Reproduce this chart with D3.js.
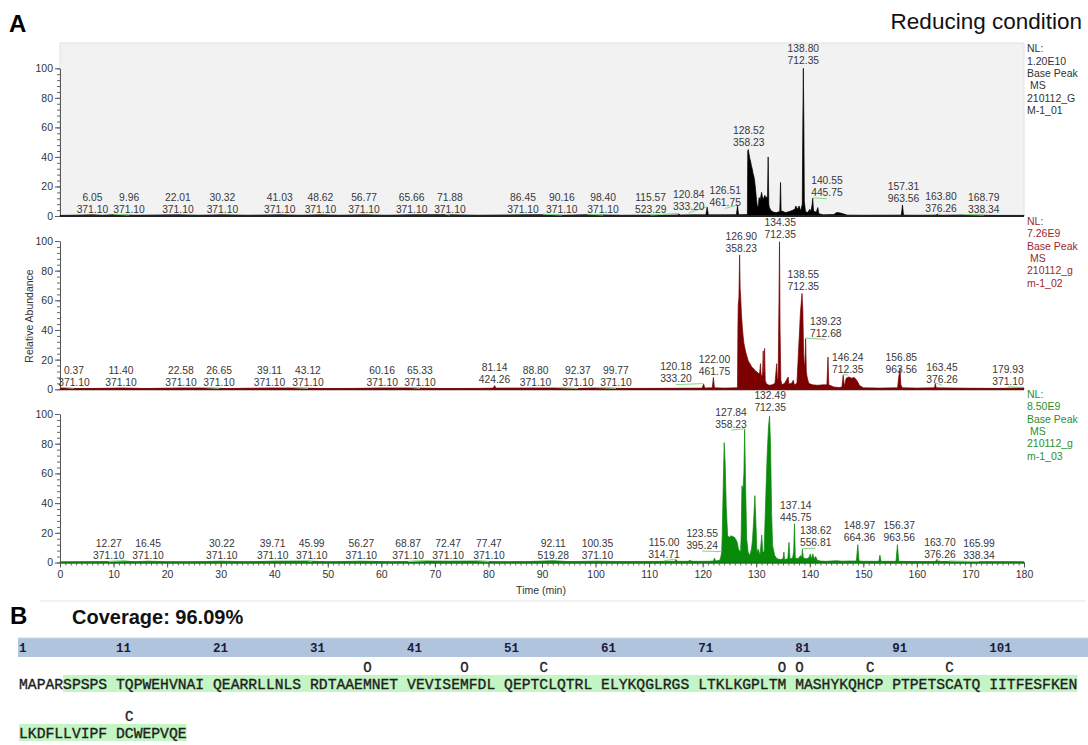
<!DOCTYPE html>
<html><head><meta charset="utf-8">
<script src="https://cdn.jsdelivr.net/npm/d3@7"></script>
<style>
html,body{margin:0;padding:0;background:#fff;}
svg{display:block;font-family:"Liberation Sans",Arial,sans-serif;}
</style></head><body>
<svg id="chart" width="1088" height="745"></svg>
<script>
// Base peak chromatograms: [retention time (min), relative abundance (%)]
const traceRun01 = [[0,0.4],[2,0.5],[6.05,0.8],[8,0.5],[9.96,0.9],[14,0.5],[22.01,0.8],[26,0.5],[30.32,0.8],[35,0.5],[41.03,0.8],[45,0.5],[48.62,0.8],[52,0.5],[56.77,0.8],[61,0.5],[65.66,0.8],[71.88,0.9],[78,0.5],[86.45,0.8],[90.16,0.9],[94,0.5],[98.4,0.9],[105,0.5],[110,0.6],[115.3,0.7],[115.57,1.4],[115.8,0.7],[118,0.8],[120.6,0.8],[120.84,6],[121.05,0.8],[124,0.8],[126.3,0.9],[126.51,7],[126.7,0.9],[128.35,1],[128.42,44],[128.52,45],[128.65,42],[128.8,39],[128.95,37],[129.1,34],[129.25,32],[129.4,29],[129.55,27],[129.7,24],[129.85,19],[130.0,13],[130.15,8],[130.28,5.7],[130.4,7],[130.53,12.5],[130.75,11],[131.0,16],[131.15,13],[131.32,11.3],[131.5,13],[131.62,14],[131.8,12],[131.93,13],[132.1,12],[132.23,40],[132.35,8],[132.45,5.7],[132.84,3.4],[133.3,2.5],[133.75,2.3],[134.4,3],[134.54,22.7],[134.65,3],[134.8,3.4],[135.5,2.3],[136.5,3.4],[137.2,4.5],[137.4,6.8],[137.7,4.5],[138.01,6.8],[138.3,3.4],[138.6,8],[138.7,62],[138.8,100],[138.9,60],[138.98,10],[139.2,3],[139.6,2.3],[140.0,4.5],[140.2,3],[140.45,8],[140.55,12],[140.7,3.4],[141.2,2.5],[141.5,5.7],[141.7,1.5],[142.5,0.8],[144.5,1],[145.0,2.3],[145.5,2.2],[146.2,1.5],[147,0.6],[150,0.5],[157.1,0.6],[157.31,7.5],[157.5,0.6],[160,0.5],[163.6,0.6],[163.8,1.3],[164.0,0.5],[168.79,0.7],[175,0.4],[180,0.4]];

const traceRun02 = [[0,0.5],[0.37,1.0],[2,0.6],[6,0.5],[11.4,0.9],[16,0.5],[22.58,0.9],[26.65,0.9],[31,0.5],[39.11,0.9],[43.12,0.9],[50,0.5],[55,0.6],[60.16,0.9],[65.33,0.9],[72,0.5],[78,0.6],[80.9,0.8],[81.14,2.5],[81.4,0.8],[88.8,0.9],[92.37,0.9],[96,0.5],[99.77,0.9],[105,0.6],[110,0.6],[115,0.7],[119.9,0.8],[120.18,3.5],[120.4,0.9],[121.8,1],[122.0,8],[122.2,1],[124,0.8],[126.5,1],[126.58,40],[126.64,56.8],[126.77,62],[126.9,90.5],[127.0,68],[127.1,62],[127.22,52],[127.4,42],[127.55,36],[127.7,31],[127.87,28],[128.05,25],[128.2,23],[128.52,19],[128.84,17.3],[129.17,15],[129.49,14],[129.82,12.5],[130.14,11.7],[130.46,10.6],[130.65,11],[130.79,17.3],[130.9,10],[131.11,9],[131.2,12],[131.31,25.9],[131.4,10],[131.5,12],[131.57,27.5],[131.68,6],[131.9,3.8],[132.4,2.7],[133.0,3],[133.5,4],[133.83,17.3],[133.95,6],[134.1,8],[134.25,60],[134.35,99.5],[134.45,40],[134.6,6.1],[134.8,3],[135.3,4],[135.6,6],[135.97,8.3],[136.1,3.5],[136.6,4],[136.94,6.1],[137.1,3],[137.6,4],[137.92,27.5],[138.1,40],[138.24,51],[138.4,58],[138.55,64.6],[138.7,53.4],[138.85,24],[139.0,15],[139.1,18],[139.23,34.2],[139.35,12],[139.5,8.3],[139.8,4],[140.5,3],[141.5,2.7],[142.5,3],[143.2,3],[143.4,21.8],[143.55,3],[144.5,1.5],[145.5,1.2],[146.0,1.5],[146.24,9.5],[146.45,2],[146.8,7.5],[147.3,8.3],[147.8,7.5],[148.3,8],[148.8,6],[149.3,2.5],[150,1],[153,0.8],[156.4,1],[156.6,8],[156.85,14],[157.0,3],[157.3,1],[160,0.8],[163.3,1],[163.45,4],[163.6,1],[170,0.7],[175,0.6],[179.93,1],[180,0.8]];

const traceRun03 = [[0,0.4],[5,0.5],[12.27,0.9],[14,0.5],[16.45,0.9],[20,0.5],[25,0.5],[30.22,0.9],[35,0.5],[39.71,0.9],[45.99,1.0],[50,0.5],[56.27,0.9],[62,0.5],[68.87,1.0],[72.47,0.9],[77.47,1.0],[82,0.5],[87,0.6],[92.11,1.2],[95,0.6],[100.35,0.9],[105,0.6],[110,0.7],[114.8,0.8],[115.0,2],[115.3,0.8],[117.3,0.8],[117.6,1.5],[118,0.8],[121,0.8],[122.0,1],[122.2,3],[122.4,1],[123.2,1.5],[123.4,4],[123.55,7],[123.65,18],[123.8,45],[124.02,80.7],[124.2,67],[124.4,38],[124.66,18],[124.97,17],[125.29,18],[125.6,17.5],[125.93,17],[126.2,15.5],[126.44,13.6],[126.69,9],[127.08,6.9],[127.2,20],[127.33,51.6],[127.52,49],[127.7,60],[127.84,89.7],[128.03,49],[128.22,16],[128.48,7],[128.8,4.7],[129.11,9],[129.3,15],[129.5,27],[129.75,45],[129.94,27],[130.13,7],[130.39,9],[130.71,4.7],[131.03,18.5],[131.22,7],[131.47,7],[131.79,45],[132.04,72],[132.3,92],[132.49,98.7],[132.68,78.5],[132.87,33.8],[133.06,11.4],[133.45,4.7],[133.89,2.5],[134.53,2],[135.0,2.5],[135.17,7],[135.3,2],[135.9,2.5],[136.12,13.6],[136.3,2.5],[136.8,3],[137.0,7.8],[137.14,26],[137.3,3],[137.8,2.5],[138.3,4.7],[138.5,3],[138.62,9],[138.8,3],[139.3,2.5],[139.8,3],[140.1,5.8],[140.3,2.5],[140.58,5.8],[140.8,2.5],[141.1,4],[141.4,1.5],[142,1],[143,0.8],[144,1],[145,1.2],[146,0.9],[147.5,1],[148.7,1],[148.97,12],[149.2,1],[150,0.8],[152.9,0.8],[153.1,5],[153.3,0.8],[156.1,0.8],[156.37,12],[156.6,0.8],[160,0.6],[163.5,0.7],[163.7,2],[163.9,0.7],[165.99,0.7],[170,0.5],[175,0.5],[180,0.4]];

// Peak annotations: [rt, m/z, label centre rt, label level %]
const peaksRun01 = [[6.05,"371.10",6.05,0],[9.96,"371.10",12.9,0],[22.01,"371.10",22.01,0],[30.32,"371.10",30.32,0],[41.03,"371.10",41.03,0],[48.62,"371.10",48.62,0],[56.77,"371.10",56.77,0],[65.66,"371.10",65.66,0],[71.88,"371.10",72.8,0],[86.45,"371.10",86.45,0],[90.16,"371.10",93.7,0],[98.40,"371.10",101.4,0],[115.57,"523.29",110.3,0],[120.84,"333.20",117.4,1.5],[126.51,"461.75",124.2,4.5],[128.52,"358.23",128.6,45],[138.80,"712.35",138.8,100.5],[140.55,"445.75",143.2,11],[157.31,"963.56",157.5,7.5],[163.80,"376.26",164.5,0.5],[168.79,"338.34",172.5,0]];

const peaksRun02 = [[0.37,"371.10",2.6,0],[11.40,"371.10",11.4,0],[22.58,"371.10",22.58,0],[26.65,"371.10",29.7,0],[39.11,"371.10",39.11,0],[43.12,"371.10",46.3,0],[60.16,"371.10",60.16,0],[65.33,"371.10",67.2,0],[81.14,"424.26",81.14,2],[88.80,"371.10",88.8,0],[92.37,"371.10",96.7,0],[99.77,"371.10",103.8,0],[120.18,"333.20",115.0,2.5],[122.00,"461.75",122.2,7.5],[126.90,"358.23",127.2,90.5],[134.35,"712.35",134.5,100],[138.55,"712.35",138.8,65],[139.23,"712.68",143.0,33],[146.24,"712.35",147.1,9],[156.85,"963.56",157.1,9],[163.45,"376.26",164.7,2],[179.93,"371.10",177.0,1]];

const peaksRun03 = [[12.27,"371.10",9.1,0],[16.45,"371.10",16.45,0],[30.22,"371.10",30.22,0],[39.71,"371.10",39.71,0],[45.99,"371.10",47.0,0],[56.27,"371.10",56.27,0],[68.87,"371.10",65.0,0],[72.47,"371.10",72.47,0],[77.47,"371.10",80.1,0],[92.11,"519.28",92.11,0],[100.35,"371.10",100.35,0],[115.00,"314.71",112.8,0.5],[123.55,"395.24",119.9,7],[127.84,"358.23",125.3,88.5],[132.49,"712.35",132.6,99.5],[137.14,"445.75",137.4,25.5],[138.62,"556.81",141.1,9],[148.97,"664.36",149.3,12],[156.37,"963.56",156.7,12],[163.70,"376.26",164.3,0.5],[165.99,"338.34",171.6,0]];

// Scan filter header per trace
const headerRun01 = ["NL:","1.20E10","Base Peak"," MS","210112_G","M-1_01"];
const headerRun02 = ["NL:","7.26E9","Base Peak"," MS","210112_g","m-1_02"];
const headerRun03 = ["NL:","8.50E9","Base Peak"," MS","210112_g","m-1_03"];

const timeTicks = d3.range(0, 181, 10);
const abundanceTicks = [0, 20, 40, 60, 80, 100];

// Protein sequence coverage
const sequence = "MAPARSPSPSTQPWEHVNAIQEARRLLNLSRDTAAEMNETVEVISEMFDLQEPTCLQTRLELYKQGLRGSLTKLKGPLTMMASHYKQHCPPTPETSCATQIITFESFKENLKDFLLVIPFDCWEPVQE";
const coveredFrom = 6, coveredTo = 128;
const oxidized = [37, 47, 80, 81];
const carbamidomethyl = [55, 89, 97, 122];
const rulerNumbers = [1, 11, 21, 31, 41, 51, 61, 71, 81, 91, 101];
const coverageText = "Coverage: 96.09%";

const svg = d3.select("#chart");
const x = d3.scaleLinear().domain([0, 180]).range([60, 1024]);

const panels = [
  {trace: traceRun01, peaks: peaksRun01, header: headerRun01, y0: 216, y100: 68.3, fill: "#000000", base: "#222", text: "#333", bg: true},
  {trace: traceRun02, peaks: peaksRun02, header: headerRun02, y0: 389.3, y100: 241, fill: "#7d0000", base: "#6e0b0b", text: "#9a2a2a", bg: false},
  {trace: traceRun03, peaks: peaksRun03, header: headerRun03, y0: 562.5, y100: 414, fill: "#0a8a0a", base: "#117a11", text: "#2c8f2c", bg: false, timeAxis: true}
];

const labelFont = 10.3;

panels.forEach(p => {
  const y = d3.scaleLinear().domain([0, 100]).range([p.y0, p.y100]);
  const g = svg.append("g");

  if (p.bg) {
    g.append("rect").attr("x", x(0)).attr("y", 43).attr("width", x(180) - x(0)).attr("height", p.y0 - 43)
      .attr("fill", "#f2f2f2").attr("stroke", "#e2e2e2");
  }

  // y axis: labelled ticks + minor ticks
  const ya = g.append("g").attr("transform", `translate(${x(0)},0)`)
    .call(d3.axisLeft(y).tickValues(abundanceTicks).tickSize(5).tickSizeOuter(0).tickPadding(2));
  ya.select(".domain").attr("stroke", "#555");
  ya.selectAll(".tick line").attr("stroke", "#555");
  ya.selectAll(".tick text").attr("font-size", 10.5).attr("fill", "#333").attr("font-family", "Liberation Sans, Arial, sans-serif");
  const ym = g.append("g").attr("transform", `translate(${x(0)},0)`)
    .call(d3.axisLeft(y).tickValues(d3.range(0, 101, 4)).tickSize(3).tickFormat(""));
  ym.select(".domain").remove();
  ym.selectAll(".tick line").attr("stroke", "#666");

  if (p.timeAxis) {
    const xm = g.append("g").attr("transform", `translate(0,${p.y0})`)
      .call(d3.axisBottom(x).tickValues(d3.range(0, 181, 1)).tickSize(3).tickFormat(""));
    xm.select(".domain").remove();
    xm.selectAll(".tick line").attr("stroke", "#666");
    const xa = g.append("g").attr("transform", `translate(0,${p.y0})`)
      .call(d3.axisBottom(x).tickValues(timeTicks).tickSize(5).tickSizeOuter(0).tickPadding(3));
    xa.select(".domain").attr("stroke", "#555");
    xa.selectAll(".tick line").attr("stroke", "#555");
    xa.selectAll(".tick text").attr("font-size", 10.5).attr("fill", "#333").attr("font-family", "Liberation Sans, Arial, sans-serif");
  }

  // chromatogram
  const area = d3.area().x(d => x(d[0])).y0(p.y0).y1(d => y(d[1]));
  g.append("path").datum(p.trace).attr("d", area).attr("fill", p.fill)
    .attr("stroke", p.fill).attr("stroke-width", 0.7).attr("stroke-linejoin", "round");
  g.append("line").attr("x1", x(0)).attr("x2", x(180)).attr("y1", p.y0).attr("y2", p.y0)
    .attr("stroke", p.base).attr("stroke-width", 2);

  // peak labels with leader lines
  const peakHeight = rt => {
    const near = p.trace.filter(d => Math.abs(d[0] - rt) < 0.06);
    return near.length ? d3.max(near, d => d[1]) : 0.5;
  };
  p.peaks.forEach(([rt, mz, lx, ly]) => {
    const px = x(rt), py = y(peakHeight(rt));
    const tx = x(lx), ty = y(ly);
    if (Math.abs(tx - px) > 3) {
      g.append("line").attr("x1", px).attr("y1", py - 0.5).attr("x2", tx).attr("y2", ty - 1)
        .attr("stroke", "#86d886").attr("stroke-width", 1);
    }
    const t = g.append("text").attr("text-anchor", "middle").attr("font-size", labelFont).attr("fill", "#383838");
    t.append("tspan").attr("x", tx).attr("y", ty - 19 + 3.7).text(rt.toFixed(2));
    t.append("tspan").attr("x", tx).attr("y", ty - 7 + 3.7).text(mz);
  });

  // scan header
  const h = g.append("text").attr("font-size", 10.5).attr("fill", p.text);
  p.header.forEach((s, i) => {
    h.append("tspan").attr("x", 1027).attr("y", p.y100 - 20 + i * 12.4 + 3.8).attr("xml:space", "preserve").text(s);
  });
});

svg.append("text").attr("transform", "translate(33,316) rotate(-90)").attr("text-anchor", "middle")
  .attr("font-size", 10.5).attr("fill", "#333").text("Relative Abundance");
svg.append("text").attr("x", 541).attr("y", 594).attr("text-anchor", "middle")
  .attr("font-size", 10.5).attr("fill", "#333").text("Time (min)");

svg.append("text").attr("x", 9).attr("y", 32).attr("font-size", 24).attr("font-weight", "bold").text("A");
svg.append("text").attr("x", 1082).attr("y", 29).attr("text-anchor", "end").attr("font-size", 22.5).attr("fill", "#111").text("Reducing condition");

// ---- B: sequence coverage ----
svg.append("line").attr("x1", 40).attr("x2", 1085).attr("y1", 601).attr("y2", 601).attr("stroke", "#ececec").attr("stroke-width", 1.5);
svg.append("text").attr("x", 10).attr("y", 624).attr("font-size", 24).attr("font-weight", "bold").text("B");
svg.append("text").attr("x", 72).attr("y", 624).attr("font-size", 20).attr("font-weight", "bold").attr("fill", "#111").text(coverageText);

const charW = 8.82, seqX = 19, perLine = 110;
const col = r => { const i = (r - 1) % perLine; return i + Math.floor(i / 10); };
const lineOf = r => Math.floor((r - 1) / perLine);
const seqY = [684, 733];

svg.append("rect").attr("x", 18).attr("y", 638).attr("width", 1070).attr("height", 19).attr("fill", "#b1c4dd");
svg.append("line").attr("x1", 18).attr("x2", 1088).attr("y1", 638).attr("y2", 638).attr("stroke", "#c9d6e8");
rulerNumbers.forEach(n => {
  svg.append("text").attr("x", seqX + col(n) * charW).attr("y", 651.5).attr("font-family", "Liberation Mono, monospace")
    .attr("font-size", 12.5).attr("font-weight", "bold").attr("fill", "#1d1d3a").text(n);
});

// highlighted (covered) stretches per line
d3.range(0, 2).forEach(li => {
  const first = Math.max(coveredFrom, li * perLine + 1);
  const last = Math.min(coveredTo, (li + 1) * perLine);
  if (first > last) return;
  const x1 = seqX + col(first) * charW, x2 = seqX + (col(last) + 1) * charW;
  svg.append("rect").attr("x", x1).attr("y", seqY[li] - 9).attr("width", x2 - x1).attr("height", 17).attr("fill", "#c4f5c4");
});

// residues, one 10-mer per text element
for (let r = 1; r <= sequence.length; r += 10) {
  svg.append("text").attr("x", seqX + col(r) * charW).attr("y", seqY[lineOf(r)] + 5)
    .attr("font-family", "Liberation Mono, monospace").attr("font-size", 14.7).attr("fill", "#1e1e1e")
    .attr("stroke", "#1e1e1e").attr("stroke-width", 0.35)
    .text(sequence.slice(r - 1, Math.min(r + 9, sequence.length)));
}

// modification markers
const marks = oxidized.map(r => [r, "O"]).concat(carbamidomethyl.map(r => [r, "C"]));
marks.forEach(([r, m]) => {
  svg.append("text").attr("x", seqX + col(r) * charW + charW / 2).attr("y", seqY[lineOf(r)] - 17 + 5)
    .attr("text-anchor", "middle").attr("font-family", "Liberation Mono, monospace").attr("font-size", 14)
    .attr("fill", "#1e1e1e").attr("stroke", "#1e1e1e").attr("stroke-width", 0.35).text(m);
});
</script>
</body></html>
